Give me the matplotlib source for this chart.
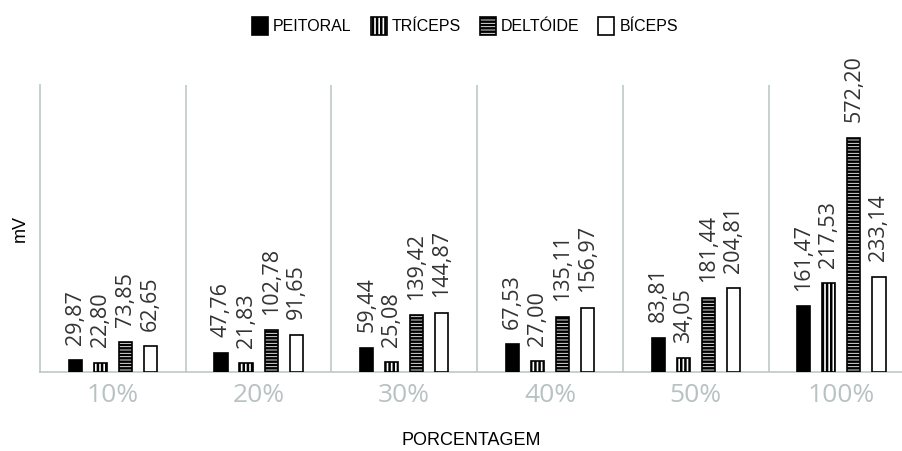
import numpy as np
import matplotlib.pyplot as plt
from matplotlib.patches import Patch

categories = ['10%', '20%', '30%', '40%', '50%', '100%']
series_names = ['PEITORAL', 'TRÍCEPS', 'DELTÓIDE', 'BÍCEPS']
peitoral = [29.87, 47.76, 59.44, 67.53, 83.81, 161.47]
triceps = [22.80, 21.83, 25.08, 27.00, 34.05, 217.53]
deltoide = [73.85, 102.78, 139.42, 135.11, 181.44, 572.20]
biceps = [62.65, 91.65, 144.87, 156.97, 204.81, 233.14]

plt.rcParams['hatch.linewidth'] = 1.8
plt.rcParams['hatch.color'] = 'black'

styles = [
    dict(facecolor='black', hatch=None),
    dict(facecolor='white', hatch='||||'),
    dict(facecolor='white', hatch='-----'),
    dict(facecolor='white', hatch=None),
]

fig = plt.figure(figsize=(9.03, 4.51), dpi=100)
ax = fig.add_axes([0.0443, 0.175, 0.9557, 0.636])

x = np.arange(len(categories))
width = 0.09
step = 0.172
grid_color = '#bcc8c4'

for i, vals in enumerate([peitoral, triceps, deltoide, biceps]):
    pos = x + (i - 1.5) * step
    bars = ax.bar(pos, vals, width, edgecolor='black', linewidth=1.2,
                  label=series_names[i], zorder=3, **styles[i])
    for b, v in zip(bars, vals):
        ax.annotate(f'{v:.2f}'.replace('.', ','),
                    (b.get_x() + b.get_width() / 2, b.get_height()),
                    xytext=(0, 11), textcoords='offset points',
                    rotation=90, ha='center', va='bottom',
                    fontsize=15.5, color='#333333', family='Open Sans')

for sep in x[:-1] + 0.5:
    ax.axvline(sep, color=grid_color, linewidth=1.2, zorder=1)

ax.set_xlim(-0.5, 5.423)
ax.set_ylim(0, 700)
ax.set_yticks([])
ax.set_xticks(x)
ax.set_xticklabels(categories, fontsize=19, color='#b8c2c2', family='Open Sans')
ax.tick_params(axis='x', length=0, pad=8)
for s in ['top', 'right']:
    ax.spines[s].set_visible(False)
ax.spines['left'].set_color(grid_color)
ax.spines['bottom'].set_color(grid_color)
ax.spines['left'].set_linewidth(1.2)
ax.spines['bottom'].set_linewidth(1.2)

ax.set_xlabel('PORCENTAGEM', fontsize=13, family='Liberation Sans', labelpad=17)
ax.set_ylabel('mV', fontsize=13, family='Liberation Sans', labelpad=8)

handles = [Patch(edgecolor='black', linewidth=1.2, label=n, **s)
           for n, s in zip(series_names, styles)]
fig.legend(handles=handles, loc='center', bbox_to_anchor=(0.515, 0.942), ncol=4,
           frameon=False, prop={'family': 'Liberation Sans', 'size': 11.5},
           handlelength=1.0, handleheight=1.4, handletextpad=0.3, columnspacing=1.2)

plt.savefig('out.png', dpi=100)
